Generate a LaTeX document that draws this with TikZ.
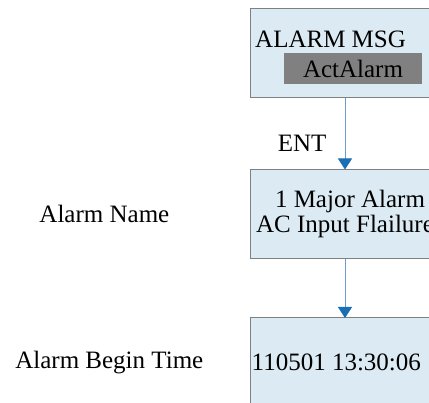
\documentclass[tikz,border=0pt]{standalone}
\usepackage{fontspec}
\setmainfont{Liberation Serif}
\usetikzlibrary{arrows.meta,positioning}
\definecolor{boxfill}{RGB}{220,235,243}
\definecolor{boxline}{RGB}{128,128,128}
\definecolor{darkbar}{RGB}{128,128,128}
\definecolor{linkline}{RGB}{110,155,200}
\definecolor{linktip}{RGB}{25,110,180}
\tikzset{
  screen/.style={draw=boxline,fill=boxfill,line width=1pt,minimum width=190pt,minimum height=89pt,inner sep=0pt},
  link/.style={draw=linkline,line width=1pt,-{Triangle[length=11pt,width=14pt,color=linktip]},shorten >=-0.5pt},
  txt/.style={font=\fontsize{25}{25}\selectfont,inner sep=0pt}
}
\begin{document}
\begin{tikzpicture}[x=1pt,y=-1pt]
			\useasboundingbox (0,0) rectangle (429,403);
			\clip (0,0) rectangle (429,403);
			\node[screen] (msg) at (345,53.5) {};
			\node[txt,anchor=base west] (msgtitle) at (255,48) {ALARM MSG};
			\node[txt,fill=darkbar,minimum width=138pt,minimum height=31pt] (actalarm) at (353,68.5) {ActAlarm};
			\node[screen,txt,align=center] (name) at (345,214) {\hspace*{10pt}1 Major Alarm\\AC Input Flailure};
			\node[screen] (time) at (345,362.5) {};
			\node[txt,anchor=west,xshift=2pt] (timetext) at (time.west) {110501 13:30:06};
			\node[txt,left=80pt of name] (namelabel) {Alarm Name};
			\node[txt,left=46pt of time] (timelabel) {Alarm Begin Time};
			\draw[link] (msg) -- node[txt,pos=0.63,left=18pt] (ent) {ENT} (name);
			\draw[link] (name) -- (time);
		\end{tikzpicture}
\end{document}
